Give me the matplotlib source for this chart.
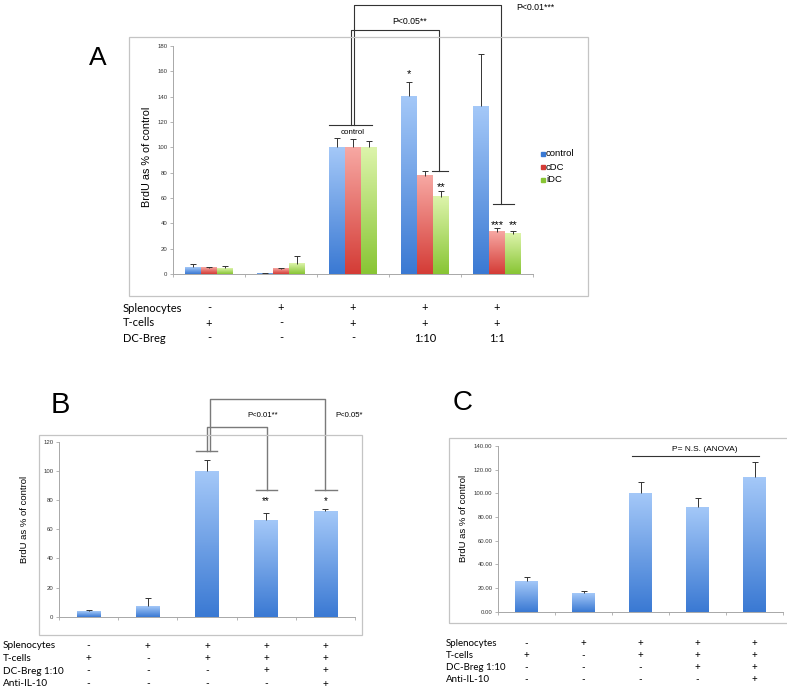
"""
Three-panel BrdU proliferation figure (A: grouped bars, B and C: single series)
with the condition table printed under each chart.
"""
import numpy as np
import matplotlib
matplotlib.use('Agg')
import matplotlib.pyplot as plt
from matplotlib.patches import Rectangle
from matplotlib.colors import LinearSegmentedColormap
from matplotlib.transforms import blended_transform_factory

plt.rcParams['font.family'] = ['Liberation Sans', 'DejaVu Sans']

W, H = 787, 691

# ---- data -----------------------------------------------------------------
series_a = ['control', 'cDC', 'iDC']
a_control = [5.2, 0.5, 100, 140.2, 132.5]
a_control_err = [2.7, 0.3, 7.5, 11.2, 40.8]
a_cdc = [5.0, 4.2, 100, 77.4, 33.5]
a_cdc_err = [0.7, 0.5, 6.7, 3.6, 2.8]
a_idc = [4.6, 7.9, 100, 60.9, 31.9]
a_idc_err = [1.4, 6.6, 5.0, 4.5, 1.8]
a_yticks = [0, 20, 40, 60, 80, 100, 120, 140, 160, 180]
a_rows = ['Splenocytes', 'T-cells', 'DC-Breg']
a_table = [['-', '+', '+', '+', '+'],
           ['+', '-', '+', '+', '+'],
           ['-', '-', '-', '1:10', '1:1']]

b_values = [3.6, 7.3, 100, 66.0, 72.2]
b_err = [1.2, 5.3, 7.5, 5.3, 1.8]
b_yticks = [0, 20, 40, 60, 80, 100, 120]

c_values = [26.0, 16.0, 100, 88.6, 113.7]
c_err = [2.9, 1.1, 9.4, 7.7, 12.6]
c_yticks = [0, 20, 40, 60, 80, 100, 120, 140]

bc_rows = ['Splenocytes', 'T-cells', 'DC-Breg 1:10', 'Anti-IL-10']
bc_table = [['-', '+', '+', '+', '+'],
            ['+', '-', '+', '+', '+'],
            ['-', '-', '-', '+', '+'],
            ['-', '-', '-', '-', '+']]

BLUE = ('#3a79d3', '#a4c8f8')
RED = ('#d43c36', '#f7a8a3')
GREEN = ('#88c534', '#ddf4ab')

fig = plt.figure(figsize=(W / 100, H / 100), dpi=100)


def px_axes(left, top, right, bottom):
    return fig.add_axes([left / W, 1 - bottom / H, (right - left) / W, (bottom - top) / H])


def frame(left, top, right, bottom):
    fig.add_artist(Rectangle((left / W, 1 - bottom / H), (right - left) / W, (bottom - top) / H,
                             transform=fig.transFigure, fill=False, ec='#c4c4c4', lw=0.9))


def style(ax, ymax, yticks, fmt='{:d}'):
    ax.set_xlim(-0.5, 4.5)
    ax.set_ylim(0, ymax)
    for s in ('top', 'right'):
        ax.spines[s].set_visible(False)
    for s in ('left', 'bottom'):
        ax.spines[s].set_color('#a8a8a8')
        ax.spines[s].set_linewidth(0.7)
    ax.set_yticks(yticks)
    ax.set_yticklabels([fmt.format(t) for t in yticks])
    ax.set_xticks(np.arange(-0.5, 5, 1.0))
    ax.set_xticklabels([])
    ax.tick_params(axis='y', length=2, width=0.6, color='#a8a8a8', labelsize=4.3, pad=2,
                   labelcolor='#333333')
    ax.tick_params(axis='x', length=2.5, width=0.6, color='#a8a8a8')
    ax.patch.set_alpha(0)


def shade(ax, bars, colors):
    # top-to-bottom light-to-dark fill, one gradient per bar
    cmap = LinearSegmentedColormap.from_list('g', colors)
    grad = np.linspace(1, 0, 128)[:, None]
    for r in bars:
        x0, h = r.get_x(), r.get_height()
        ax.imshow(grad, extent=(x0, x0 + r.get_width(), 0, h), cmap=cmap, vmin=0, vmax=1,
                  aspect='auto', zorder=2, interpolation='bilinear')
        r.set_visible(False)


def errs(ax, x, y, e):
    # upper half only, single cap at the top
    x = np.asarray(x, float)
    top = np.asarray(y) + np.asarray(e)
    ax.vlines(x, y, top, color='#333333', lw=0.7, zorder=3)
    ax.plot(x, top, ls='none', marker='_', ms=4, mew=0.7, color='#333333', zorder=3)


def bracket(ax, pts, color, lw):
    xs, ys = zip(*pts)
    ax.plot(xs, ys, color=color, lw=lw, clip_on=False, zorder=4)


def table(ax, rows, cells, label_x, row_ys, size):
    tr = blended_transform_factory(ax.transData, fig.transFigure)
    for name, vals, y in zip(rows, cells, row_ys):
        fig.text(label_x / W, 1 - y / H, name, family='Lato', fontsize=size, va='center')
        for i, v in enumerate(vals):
            ax.text(i, 1 - y / H, v, transform=tr, family='Lato', fontsize=size,
                    ha='center', va='center')


x = np.arange(5)

# ---- panel A --------------------------------------------------------------
frame(129, 37, 588, 296)
ax = px_axes(173, 46, 533, 274)
bw = 0.22
for vals, err, off, col in ((a_control, a_control_err, -bw, BLUE),
                            (a_cdc, a_cdc_err, 0, RED),
                            (a_idc, a_idc_err, bw, GREEN)):
    bars = ax.bar(x + off, vals, width=bw, color=col[0])
    shade(ax, bars, col)
    errs(ax, x + off, vals, err)
style(ax, 180, a_yticks)
fig.text(147 / W, 1 - 157 / H, 'BrdU as % of control', rotation=90, fontsize=7.8,
         ha='center', va='center')
fig.text(98 / W, 1 - 58 / H, 'A', fontsize=19, ha='center', va='center')

ax.plot([1.67, 2.26], [117.4, 117.4], color='#333333', lw=0.8, zorder=4)
ax.text(2.0, 111.8, 'control', fontsize=5.8, ha='center', va='center')
bracket(ax, [(1.968, 117.4), (1.968, 193), (3.2, 193), (3.2, 81)], '#333333', 0.8)
bracket(ax, [(3.1, 81), (3.32, 81)], '#333333', 0.8)
bracket(ax, [(2.02, 117.4), (2.02, 212.5), (4.06, 212.5), (4.06, 55)], '#333333', 0.8)
bracket(ax, [(3.94, 55), (4.23, 55)], '#333333', 0.8)
ax.text(2.78, 199.5, 'P<0.05**', fontsize=6.3, ha='center', va='center', clip_on=False)
ax.text(4.53, 210, 'P<0.01***', fontsize=6.3, ha='center', va='center', clip_on=False)
ax.text(2.78, 158, '*', fontsize=8, ha='center', va='center')
ax.text(3.22, 69, '**', fontsize=8, ha='center', va='center')
ax.text(4.0, 39, '***', fontsize=8, ha='center', va='center')
ax.text(4.22, 39, '**', fontsize=8, ha='center', va='center')

for i, (name, col) in enumerate(zip(series_a, (BLUE, RED, GREEN))):
    y = 154 + 13 * i
    fig.add_artist(Rectangle((541 / W, 1 - (y + 2) / H), 4 / W, 4 / H,
                             transform=fig.transFigure, color=col[0]))
    fig.text(546 / W, 1 - y / H, name, fontsize=6.8, va='center')

table(ax, a_rows, a_table, 123, [308, 323, 338], 8)

# ---- panel B --------------------------------------------------------------
frame(39, 435, 362, 635)
bx = px_axes(59, 441.7, 355, 616.7)
bars = bx.bar(x, b_values, width=0.4, color=BLUE[0])
shade(bx, bars, BLUE)
errs(bx, x, b_values, b_err)
style(bx, 120, b_yticks)
fig.text(25 / W, 1 - 519 / H, 'BrdU as % of control', rotation=90, fontsize=6.8,
         ha='center', va='center')
fig.text(60 / W, 1 - 405 / H, 'B', fontsize=21, ha='center', va='center')

g = '#7a7a7a'
bracket(bx, [(1.81, 113.6), (2.17, 113.6)], g, 1.0)
bracket(bx, [(1.995, 113.6), (1.995, 130.4), (3.01, 130.4), (3.01, 87)], g, 1.0)
bracket(bx, [(2.83, 87), (3.19, 87)], g, 1.0)
bracket(bx, [(2.05, 113.6), (2.05, 149.5), (4.0, 149.5), (4.0, 87)], g, 1.0)
bracket(bx, [(3.82, 87), (4.19, 87)], g, 1.0)
bx.text(2.94, 138, 'P<0.01**', fontsize=5.6, ha='center', va='center', clip_on=False)
bx.text(4.40, 138, 'P<0.05*', fontsize=5.6, ha='center', va='center', clip_on=False)
bx.text(3, 79, '**', fontsize=7, ha='center', va='center')
bx.text(4, 79, '*', fontsize=7, ha='center', va='center')

table(bx, bc_rows, bc_table, 3, [646, 658.3, 671, 684], 7.2)

# ---- panel C --------------------------------------------------------------
frame(449, 438, 790, 623)
cx = px_axes(498, 446, 783, 611.7)
bars = cx.bar(x, c_values, width=0.4, color=BLUE[0])
shade(cx, bars, BLUE)
errs(cx, x, c_values, c_err)
style(cx, 140, c_yticks, fmt='{:.2f}')
fig.text(464 / W, 1 - 518 / H, 'BrdU as % of control', rotation=90, fontsize=6.8,
         ha='center', va='center')
fig.text(463 / W, 1 - 403 / H, 'C', fontsize=20, ha='center', va='center')

cx.plot([1.85, 4.08], [131.4, 131.4], color='#333333', lw=0.8, clip_on=False)
cx.text(3.13, 136.8, 'P= N.S. (ANOVA)', fontsize=6, ha='center', va='center', clip_on=False)

table(cx, bc_rows, bc_table, 446, [643.3, 655.7, 667.3, 679.3], 7)

fig.savefig('out.png', dpi=100)
